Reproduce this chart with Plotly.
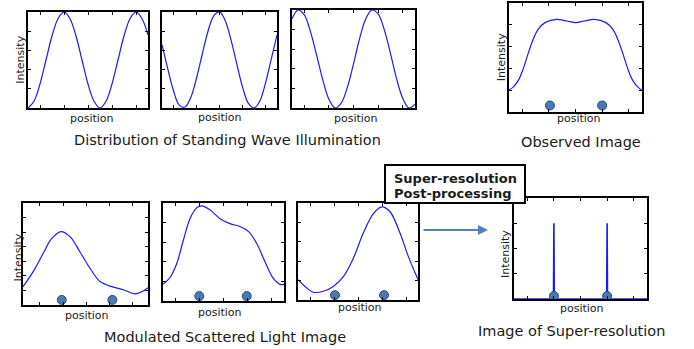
import plotly.graph_objects as go

W, H = 694, 349

# ---------------- data ----------------
POS = [0, 0.5, 1, 1.5, 2, 2.5, 3, 3.5, 4, 4.5, 5, 5.5, 6, 6.5, 7, 7.5, 8, 8.5, 9, 9.5, 10]

ILLUM_A = [0.00, 0.07, 0.25, 0.50, 0.75, 0.93, 1.00, 0.93, 0.75, 0.50, 0.25,
           0.07, 0.00, 0.07, 0.25, 0.50, 0.75, 0.93, 1.00, 0.93, 0.76]
ILLUM_B = [0.66, 0.41, 0.18, 0.03, 0.01, 0.11, 0.31, 0.56, 0.80, 0.96, 1.00,
           0.91, 0.71, 0.46, 0.22, 0.05, 0.00, 0.07, 0.26, 0.51, 0.76]
ILLUM_C = [0.91, 1.00, 0.95, 0.78, 0.54, 0.29, 0.09, 0.00, 0.05, 0.21, 0.45,
           0.71, 0.91, 1.00, 0.96, 0.80, 0.56, 0.30, 0.10, 0.00, 0.04]

OBS_X = [0, 0.33, 0.70, 1.08, 1.45, 1.83, 2.20, 2.71, 3.58, 4.34, 5.0,
         5.66, 6.42, 7.29, 7.80, 8.17, 8.55, 8.92, 9.30, 9.67, 10]
OBS_Y = [0.20, 0.23, 0.29, 0.40, 0.54, 0.67, 0.76, 0.82, 0.85, 0.835, 0.82,
         0.835, 0.85, 0.82, 0.76, 0.67, 0.54, 0.40, 0.29, 0.23, 0.20]
OBS_DOTS_X = [3.08, 7.0]
OBS_DOTS_Y = [0.06, 0.06]

MOD_A_X = [0, 0.83, 1.63, 2.29, 3.04, 3.76, 4.56, 5.36, 6.16, 7.1, 8.02, 8.96, 9.5, 10]
MOD_A_Y = [0.18, 0.33, 0.51, 0.65, 0.72, 0.67, 0.52, 0.36, 0.23, 0.18, 0.15, 0.11, 0.13, 0.17]
MOD_A_DOTS_X = [3.1, 7.15]

MOD_B_X = [0, 0.58, 1.13, 1.68, 2.23, 2.78, 3.2, 3.88, 4.71, 5.54, 6.36, 7.05,
           7.74, 8.43, 9.12, 9.67, 10]
MOD_B_Y = [0.17, 0.24, 0.38, 0.62, 0.84, 0.95, 0.97, 0.93, 0.84, 0.79, 0.76, 0.71,
           0.59, 0.40, 0.23, 0.17, 0.17]
MOD_B_DOTS_X = [3.0, 6.92]

MOD_C_X = [0, 0.58, 1.28, 2.11, 2.94, 3.78, 4.61, 5.44, 6.28, 6.97, 7.67, 8.5, 9.19, 10]
MOD_C_Y = [0.21, 0.14, 0.08, 0.09, 0.14, 0.24, 0.43, 0.69, 0.89, 0.96, 0.91, 0.69, 0.45, 0.21]
MOD_C_DOTS_X = [3.08, 7.17]
MOD_DOTS_Y = [0.05, 0.05]

SR_X = [0, 2.97, 3.0, 3.03, 6.97, 7.0, 7.03, 10]
SR_Y = [0, 0, 0.75, 0, 0, 0.75, 0, 0]
SR_DOTS_X = [3.0, 7.0]
SR_DOTS_Y = [0.03, 0.03]

X_TICKS = [1, 3, 5, 7, 9]
Y_TICKS = [0.2, 0.4, 0.6, 0.8]
Y_TICKS_SR = [0.25, 0.5, 0.75]
Y_TICKS_MA = [0.143, 0.286, 0.429, 0.571, 0.714, 0.857]
X_TICKS_MA = [1.35, 3.2, 5.05, 6.9, 8.75]

CAPTIONS = ["Distribution of Standing Wave Illumination", "Observed Image",
            "Modulated Scattered Light Image", "Image of Super-resolution"]
BOX_LINES = ["Super-resolution", "Post-processing"]

# ---------------- layout helpers ----------------
FONT = "DejaVu Sans"
LINE_BLUE = "#1a1aff"
DOT_FILL = "#4a78b0"
DOT_EDGE = "#2b4c7e"

# panel pixel boxes (x0, x1, y0, y1)
PANELS = [
    (28, 148, 12, 108),
    (162, 277, 12, 108),
    (292, 415, 10, 108),
    (509, 642, 3, 112),
    (23, 148, 203, 305),
    (163, 284, 203, 301),
    (298, 418, 203, 300),
    (514, 647, 198, 299),
]

def px(x):
    return x / W

def py(y):
    return 1 - y / H

fig = go.Figure()
layout = dict(width=W, height=H, margin=dict(l=0, r=0, t=0, b=0),
              paper_bgcolor="white", plot_bgcolor="white", showlegend=False,
              font=dict(family=FONT, color="#1a1a1a"))

curves = [
    (POS, ILLUM_A, None, None),
    (POS, ILLUM_B, None, None),
    (POS, ILLUM_C, None, None),
    (OBS_X, OBS_Y, OBS_DOTS_X, OBS_DOTS_Y),
    (MOD_A_X, MOD_A_Y, MOD_A_DOTS_X, MOD_DOTS_Y),
    (MOD_B_X, MOD_B_Y, MOD_B_DOTS_X, MOD_DOTS_Y),
    (MOD_C_X, MOD_C_Y, MOD_C_DOTS_X, MOD_DOTS_Y),
    (SR_X, SR_Y, SR_DOTS_X, SR_DOTS_Y),
]

ytick_sets = [Y_TICKS, Y_TICKS, Y_TICKS, Y_TICKS, Y_TICKS_MA, Y_TICKS, Y_TICKS, Y_TICKS_SR]
xtick_sets = [X_TICKS, X_TICKS, X_TICKS, X_TICKS, X_TICKS_MA, X_TICKS, X_TICKS, X_TICKS]

for i, ((x0, x1, y0, y1), (cx, cy, dx, dy)) in enumerate(zip(PANELS, curves)):
    n = "" if i == 0 else str(i + 1)
    xa, ya = "x" + n, "y" + n
    axis_common = dict(showline=True, linecolor="black", linewidth=2, mirror="ticks",
                       ticks="inside", ticklen=3, tickwidth=1, tickcolor="black",
                       showticklabels=False, showgrid=False, zeroline=False)
    layout["xaxis" + n] = dict(domain=[px(x0), px(x1)], range=[0, 10], anchor=ya,
                               tickvals=xtick_sets[i], **axis_common)
    layout["yaxis" + n] = dict(domain=[py(y1), py(y0)], range=[0, 1], anchor=xa,
                               tickvals=ytick_sets[i], **axis_common)
    fig.add_trace(go.Scatter(x=cx, y=cy, xaxis=xa, yaxis=ya, mode="lines",
                             line=dict(color=LINE_BLUE, width=1.2 if i < 7 else 1.6,
                                       shape="linear" if i == 7 else "spline"),
                             hoverinfo="skip"))
    if dx is not None:
        fig.add_trace(go.Scatter(x=dx, y=dy, xaxis=xa, yaxis=ya, mode="markers",
                                 cliponaxis=False,
                                 marker=dict(size=9, color=DOT_FILL,
                                             line=dict(color=DOT_EDGE, width=1)),
                                 hoverinfo="skip"))

fig.update_layout(**layout)

ann = []

def text(x, y, s, size, angle=0, bold=False, xanchor="center"):
    ann.append(dict(x=px(x), y=py(y), xref="paper", yref="paper", text=("<b>%s</b>" % s) if bold else s,
                    showarrow=False, textangle=angle, xanchor=xanchor, yanchor="middle",
                    font=dict(family=FONT, size=size, color="#1a1a1a")))

# axis labels
for (x, y) in [(91.5, 118), (220, 117), (356, 118), (579, 118),
               (87, 315), (220, 312), (360, 307), (582, 308)]:
    text(x, y, "position", 11)
for (x, y) in [(20.7, 60), (501.7, 57.5), (18, 257.5), (505, 254)]:
    text(x, y, "Intensity", 11, angle=-90)

# captions
text(227, 140, CAPTIONS[0], 14.5)
text(581, 142, CAPTIONS[1], 14.5)
text(225, 337, CAPTIONS[2], 14.5)
text(571, 331, CAPTIONS[3], 14.5)

# box text
text(391.5, 178, BOX_LINES[0], 13, bold=True, xanchor="left")
text(391.5, 193, BOX_LINES[1], 13, bold=True, xanchor="left")

# arrow
ann.append(dict(x=px(488), y=py(230), xref="paper", yref="paper", ax=-66, ay=0,
                axref="pixel", ayref="pixel", showarrow=True, arrowhead=2, arrowsize=1,
                arrowwidth=2, arrowcolor="#4f81bd", text=""))

fig.update_layout(annotations=ann)

fig.add_shape(type="rect", xref="paper", yref="paper", x0=px(385), x1=px(525),
              y0=py(203), y1=py(165), line=dict(color="black", width=2),
              fillcolor="white", layer="above")

fig.write_html("out.html")
